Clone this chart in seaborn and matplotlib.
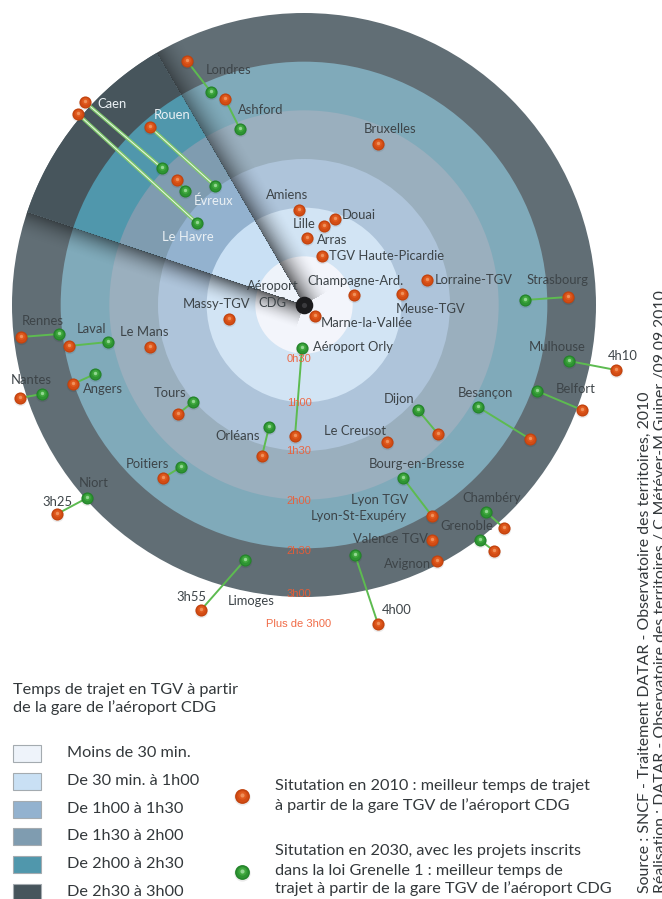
import numpy as np
import pandas as pd
import matplotlib
matplotlib.use('Agg')
import matplotlib.pyplot as plt
from matplotlib.patches import Circle, Wedge, Rectangle
import seaborn as sns

# rings: travel time, minutes, with their colours from the outer one inwards
ring_minutes = [180, 150, 120, 90, 60, 30]
ring_colors = ['#616e75', '#80aaba', '#9aafbe', '#aec4da', '#d2e4f4', '#f3f5fb']
sector_colors = ['#47555c', '#5097ac', '#7f9cb0', '#93b2cf', '#c9e0f4', '#eef3fa']
ring_labels = ['0h30', '1h00', '1h30', '2h00', '2h30', '3h00', 'Plus de 3h00']
ring_label_y = [359, 403, 451, 501, 551, 594, 624]

# stations as they sit on the picture
cities_2010 = ['Londres', 'Ashford', 'Caen', 'Le Havre', 'Rouen', 'Évreux', 'Amiens', 'Lille', 'Douai', 'Arras',
               'TGV Haute-Picardie', 'Bruxelles', 'Lorraine-TGV', 'Champagne-Ard.', 'Meuse-TGV', 'Strasbourg',
               'Massy-TGV', 'Marne-la-Vallée', 'Aéroport Orly', 'Rennes', 'Laval', 'Le Mans', 'Angers', 'Nantes',
               'Tours', 'Orléans', 'Poitiers', 'Niort', 'Limoges', 'Mulhouse', 'Belfort', 'Besançon', 'Dijon',
               'Le Creusot', 'Bourg-en-Bresse', 'Valence TGV', 'Avignon', 'Chambéry', 'Grenoble', 'Sud 4h00']
x_2010 = [187, 225, 85, 78, 150, 177, 299, 324, 335, 307, 322, 378, 427, 354, 402, 568, 229, 315, 295, 21, 69, 150,
          73, 20, 178, 262, 163, 57, 201, 616, 582, 530, 438, 387, 432, 432, 437, 504, 494, 378]
y_2010 = [61, 99, 102, 114, 127, 180, 210, 226, 219, 238, 256, 144, 280, 295, 294, 297, 319, 316, 436, 337, 346, 347,
          384, 398, 414, 456, 478, 514, 610, 370, 410, 439, 434, 442, 516, 540, 561, 528, 551, 624]

cities_2030 = ['Londres', 'Ashford', 'Caen', 'Le Havre', 'Rouen', 'Évreux', 'Strasbourg', 'Aéroport Orly', 'Rennes',
               'Laval', 'Angers', 'Nantes', 'Tours', 'Orléans', 'Poitiers', 'Niort', 'Limoges', 'Mulhouse', 'Belfort',
               'Besançon', 'Dijon', 'Bourg-en-Bresse', 'Chambéry', 'Grenoble', 'Sud 4h00']
x_2030 = [211, 240, 162, 197, 215, 185, 525, 302, 59, 108, 95, 42, 193, 269, 181, 87, 245, 569, 537, 478, 418, 403,
          486, 480, 355]
y_2030 = [92, 129, 168, 223, 186, 191, 300, 348, 334, 342, 374, 394, 402, 427, 467, 498, 560, 361, 391, 407, 410, 478,
          512, 540, 555]
double_lines = ['Caen', 'Le Havre', 'Rouen']

labels_dark = [('Londres', 229, 70), ('Ashford', 261, 110), ('Amiens', 287, 195), ('Lille', 304, 224),
               ('Douai', 359, 215), ('Arras', 332, 240), ('TGV Haute-Picardie', 387, 256), ('Bruxelles', 390, 129),
               ('Lorraine-TGV', 474, 280), ('Champagne-Ard.', 355, 281), ('Meuse-TGV', 431, 309),
               ('Strasbourg', 558, 280), ('Aéroport', 273, 286), ('CDG', 272, 303), ('Massy-TGV', 217, 304),
               ('Marne-la-Vallée', 367, 323), ('Aéroport Orly', 353, 347), ('Rennes', 43, 321), ('Laval', 92, 329),
               ('Le Mans', 144, 332), ('Angers', 103, 389), ('Nantes', 31, 380), ('Tours', 170, 393),
               ('Orléans', 238, 436), ('Poitiers', 147, 464), ('Niort', 94, 483), ('3h25', 57, 502),
               ('3h55', 191, 597), ('Limoges', 251, 601), ('4h00', 397, 610), ('Mulhouse', 557, 347),
               ('4h10', 623, 356), ('Belfort', 576, 389), ('Besançon', 485, 393), ('Dijon', 399, 399),
               ('Le Creusot', 355, 431), ('Bourg-en-Bresse', 417, 464), ('Lyon TGV', 380, 500),
               ('Lyon-St-Exupéry', 359, 516), ('Valence TGV', 390, 539), ('Avignon', 408, 564),
               ('Chambéry', 492, 498), ('Grenoble', 467, 526)]
labels_white = [('Caen', 112, 104), ('Rouen', 172, 115), ('Évreux', 214, 201), ('Le Havre', 188, 237)]

legend_title = ['Temps de trajet en TGV à partir', 'de la gare de l’aéroport CDG']
legend_classes = ['Moins de 30 min.', 'De 30 min. à 1h00', 'De 1h00 à 1h30', 'De 1h30 à 2h00', 'De 2h00 à 2h30',
                  'De 2h30 à 3h00']
legend_y = [753, 781, 809, 836, 864, 892]
note_2010 = [('Situtation en 2010 : meilleur temps de trajet', 786), ('à partir de la gare TGV de l’aéroport CDG', 806)]
note_2030 = [('Situtation en 2030, avec les projets inscrits', 851), ('dans la loi Grenelle 1 : meilleur temps de', 871),
             ('trajet à partir de la gare TGV de l’aéroport CDG', 889)]

cx, cy = 304, 305
px_per_min = 292 / 180
sector_a = (27, 212)
sector_b = (157, 53)
font = 'Lato'
dark = '#3d4448'
orange = ['#c2430e', '#d34c14', '#e05a1e', '#f0905a']
green = ['#23842a', '#2e9432', '#40a83e', '#92d692']

sns.set_theme(style='white')
plt.rcParams['font.family'] = [font, 'DejaVu Sans']

fig = plt.figure(figsize=(6.62, 8.99), dpi=100)
ax = fig.add_axes([0, 0, 1, 1])

theta1 = np.degrees(np.arctan2(sector_a[1] - cy, sector_a[0] - cx)) % 360
theta2 = np.degrees(np.arctan2(sector_b[1] - cy, sector_b[0] - cx)) % 360

for m, c, c2 in zip(ring_minutes, ring_colors, sector_colors):
    r = m * px_per_min
    ax.add_patch(Circle((cx, cy), r, fc=c, ec='none', zorder=1))
    ax.add_patch(Wedge((cx, cy), r, theta1, theta2, fc=c2, ec='none', zorder=2))

# soft shadow on each side of the sector, stronger near the centre
xx, yy = np.meshgrid(np.arange(662) + 0.5, np.arange(899) + 0.5)
alpha = np.zeros_like(xx)
for (px, py), side, width, strength in [(sector_a, -1, 26, 0.68), (sector_b, 1, 30, 0.62)]:
    ux, uy = (px - cx) / np.hypot(px - cx, py - cy), (py - cy) / np.hypot(px - cx, py - cy)
    along = (xx - cx) * ux + (yy - cy) * uy
    across = -((xx - cx) * uy - (yy - cy) * ux) * side
    fade = np.clip(1 - across / width, 0, 1) ** 2
    fade[(across < 0) | (along < 0)] = 0
    alpha = np.maximum(alpha, fade * strength * (0.55 + 0.45 * np.clip(1 - along / 300, 0, 1)))
shadow = np.zeros(xx.shape + (4,))
shadow[..., 3] = alpha
im = ax.imshow(shadow, extent=(0, 662, 899, 0), zorder=3, interpolation='bilinear', aspect='auto')
im.set_clip_path(Circle((cx, cy), 292, transform=ax.transData))

points_2010 = pd.DataFrame({'city': cities_2010, 'x': x_2010, 'y': y_2010})
points_2030 = pd.DataFrame({'city': cities_2030, 'x': x_2030, 'y': y_2030})

links = pd.concat([points_2010[points_2010.city.isin(cities_2030)], points_2030])
doubled = links[links.city.isin(double_lines)]
sns.lineplot(data=links, x='x', y='y', units='city', estimator=None, sort=False, color='#5dbb50', lw=1.4,
             legend=False, ax=ax, zorder=4)
sns.lineplot(data=doubled, x='x', y='y', units='city', estimator=None, sort=False, color='#7fc86c', lw=2.6,
             legend=False, ax=ax, zorder=4)
sns.lineplot(data=doubled, x='x', y='y', units='city', estimator=None, sort=False, color='#eef6ea', lw=0.7,
             legend=False, ax=ax, zorder=4)


def spheres(data, colors, scale=1.0):
    sns.scatterplot(data=data.assign(y=data.y + 1), x='x', y='y', s=92 * scale, color='black', alpha=0.08,
                    linewidth=0, legend=False, ax=ax, zorder=5)
    sizes = [76, 50, 24, 6]
    shifts = [0, 0.2, 0.6, 1.2]
    for i in range(4):
        sns.scatterplot(data=data.assign(y=data.y - shifts[i] * scale ** 0.5), x='x', y='y', s=sizes[i] * scale,
                        color=colors[i], linewidth=0, legend=False, ax=ax, zorder=6 + i)


spheres(points_2010, orange)
spheres(points_2030, green)

# departure station
hub = pd.DataFrame({'x': [cx], 'y': [cy]})
sns.scatterplot(data=hub, x='x', y='y', s=160, color='#1b1b1d', linewidth=0, legend=False, ax=ax, zorder=6)
sns.scatterplot(data=hub, x='x', y='y', s=14, color='#3a3a3d', linewidth=0, legend=False, ax=ax, zorder=7)

for name, x, y in labels_dark:
    ax.text(x, y, name, ha='center', va='center', fontsize=9.4, color=dark, zorder=10)
for name, x, y in labels_white:
    ax.text(x, y, name, ha='center', va='center', fontsize=9.4, color='#eaf0f4', zorder=10)

for name, y in zip(ring_labels, ring_label_y):
    ax.text(299, y, name, ha='center', va='center', fontsize=8, color='#ef5c34', alpha=0.9, zorder=10,
            family=['Liberation Sans'])

for line, y in zip(legend_title, [690, 708]):
    ax.text(13, y, line, ha='left', va='center', fontsize=11.7, color='#33383b')
for name, c, y in zip(legend_classes, sector_colors[::-1], legend_y):
    ax.add_patch(Rectangle((13, y - 8.5), 28, 17, fc=c, ec='#a4abb0', lw=0.8))
    ax.text(67, y, name, ha='left', va='center', fontsize=11.7, color='#33383b')
for line, y in note_2010 + note_2030:
    ax.text(275, y, line, ha='left', va='center', fontsize=11.7, color='#33383b')

spheres(pd.DataFrame({'x': [242], 'y': [796]}), orange, 1.5)
spheres(pd.DataFrame({'x': [242], 'y': [872]}), green, 1.5)

ax.text(645, 893, 'Source : SNCF - Traitement DATAR - Observatoire des territoires, 2010', rotation=90, ha='center',
        va='bottom', fontsize=11.4, color='#33383b')
ax.text(661, 893, 'Réalisation : DATAR - Observatoire des territoires / C.Météyer-M.Guiner /09.09.2010', rotation=90,
        ha='center', va='bottom', fontsize=11.4, color='#33383b')

ax.set_xlim(0, 662)
ax.set_ylim(899, 0)
ax.axis('off')
fig.savefig('out.png', dpi=100)
